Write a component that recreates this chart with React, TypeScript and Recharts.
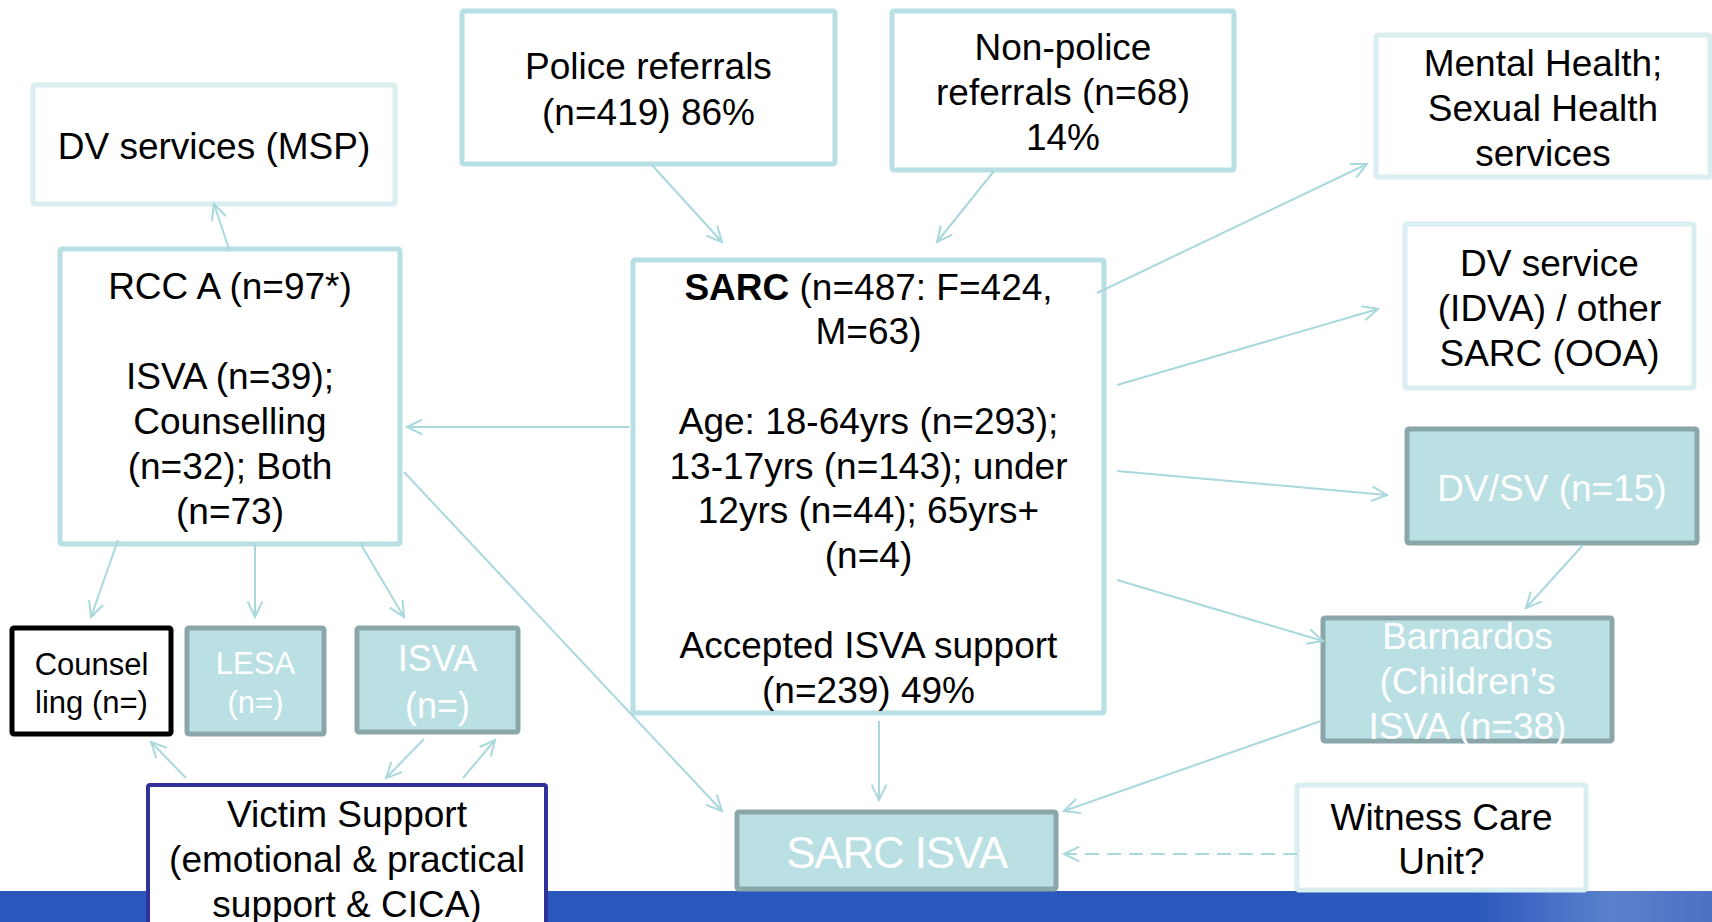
import { ComposedChart, XAxis, YAxis, ReferenceArea, ReferenceLine, Scatter } from 'recharts';

const W = 1712;
const H = 922;
const FONT = '"Liberation Sans", Arial, sans-serif';

// boxes of the referral flow (slide units, origin top-left)
const boxNames = [
  'dvMsp', 'police', 'nonPolice', 'mental', 'rcc', 'sarc', 'idva', 'dvsv',
  'counselling', 'lesa', 'isva', 'barnardos', 'victim', 'sarcIsva', 'witness',
];
const boxLeft = [33, 462, 892, 1376, 60, 633, 1405, 1407, 12, 187, 357, 1323, 148, 737, 1297];
const boxRight = [395, 835, 1234, 1710, 400, 1104, 1694, 1697, 171, 324, 518, 1612, 546, 1056, 1586];
const boxTop = [85, 11, 11, 35, 249, 260, 224, 429, 628, 628, 628, 618, 785, 812, 785];
const boxBottom = [204, 164, 170, 177, 544, 713, 388, 543, 734, 734, 732, 741, 929, 889, 890];
const boxKinds = [
  'pale', 'light', 'light', 'pale', 'light', 'light', 'pale', 'filled',
  'black', 'filled', 'filled', 'filled', 'navy', 'filled', 'pale',
];
const boxLines = [
  ['DV services (MSP)'],
  ['Police referrals', '(n=419) 86%'],
  ['Non-police', 'referrals (n=68)', '14%'],
  ['Mental Health;', 'Sexual Health', 'services'],
  ['RCC A (n=97*)', '', 'ISVA (n=39);', 'Counselling', '(n=32); Both', '(n=73)'],
  [
    'SARC (n=487: F=424,', 'M=63)', '', 'Age: 18-64yrs (n=293);', '13-17yrs (n=143); under',
    '12yrs (n=44); 65yrs+', '(n=4)', '', 'Accepted ISVA support', '(n=239) 49%',
  ],
  ['DV service', '(IDVA) / other', 'SARC (OOA)'],
  ['DV/SV (n=15)'],
  ['Counsel', 'ling (n=)'],
  ['LESA', '(n=)'],
  ['ISVA', '(n=)'],
  ['Barnardos', '(Children’s', 'ISVA (n=38)'],
  ['Victim Support', '(emotional & practical', 'support & CICA)'],
  ['SARC ISVA'],
  ['Witness Care', 'Unit?'],
];
const boxBoldLead = ['', '', '', '', '', 'SARC', '', '', '', '', '', '', '', '', ''];
const boxFontSize = [37, 37, 37, 37, 37, 37, 37, 37, 31, 31, 36, 37, 37, 44, 37];
const boxLineHeight = [45, 46, 45, 45, 45, 44.8, 45, 45, 38, 39, 47, 45, 45, 45, 44];

// connectors
const arrowFromX = [651, 994, 229, 629, 1097, 1117, 1117, 1117, 1583, 1321, 1297, 879, 404, 118, 255, 360, 186, 424, 463];
const arrowFromY = [164, 171, 249, 427, 293, 385, 471, 580, 545, 721, 854, 721, 472, 540, 543, 543, 778, 739, 778];
const arrowToX = [722, 937, 214, 407, 1367, 1378, 1387, 1323, 1526, 1064, 1064, 879, 722, 91, 255, 404, 151, 386, 495];
const arrowToY = [242, 242, 204, 427, 164, 309, 495, 641, 608, 811, 854, 800, 811, 617, 617, 617, 742, 778, 740];
const arrowDashed = [false, false, false, false, false, false, false, false, false, false, true, false, false, false, false, false, false, false, false];

const kindStyles: Record<string, { fill: string; stroke: string; strokeWidth: number; text: string }> = {
  light: { fill: '#ffffff', stroke: '#b8dfe3', strokeWidth: 5, text: '#000000' },
  pale: { fill: '#ffffff', stroke: '#d9eef0', strokeWidth: 5, text: '#000000' },
  filled: { fill: '#bbe0e4', stroke: '#8aa6a9', strokeWidth: 5, text: '#ffffff' },
  black: { fill: '#ffffff', stroke: '#000000', strokeWidth: 5, text: '#000000' },
  navy: { fill: '#ffffff', stroke: '#30329a', strokeWidth: 4, text: '#000000' },
};

const ARROW_COLOR = '#a9d8dd';

function makeBoxShape(i: number) {
  return (props: any) => {
    const { x, y, width, height } = props;
    const st = kindStyles[boxKinds[i]];
    const lines = boxLines[i];
    const fs = boxFontSize[i];
    const lh = boxLineHeight[i];
    const cx = x + width / 2;
    const cy = y + height / 2 + 2;
    const start = cy - ((lines.length - 1) * lh) / 2;
    const lead = boxBoldLead[i];
    return (
      <g>
        <rect x={x} y={y} width={width} height={height} fill={st.fill} stroke={st.stroke} strokeWidth={st.strokeWidth} rx={2} />
        {lines.map((line, k) => {
          const hasLead = k === 0 && lead && line.startsWith(lead);
          return (
            <text
              key={k}
              x={cx}
              y={start + k * lh}
              textAnchor="middle"
              dominantBaseline="central"
              fontFamily={FONT}
              fontSize={fs}
              letterSpacing={boxNames[i] === 'sarcIsva' ? -1.2 : 0}
              fill={st.text}
            >
              {hasLead ? (
                <>
                  <tspan fontWeight="bold">{lead}</tspan>
                  <tspan>{line.slice(lead.length)}</tspan>
                </>
              ) : (
                line
              )}
            </text>
          );
        })}
      </g>
    );
  };
}

function makeArrowShape(i: number) {
  return (props: any) => {
    const { x1, y1, x2, y2 } = props;
    const ang = Math.atan2(y2 - y1, x2 - x1);
    const len = 17;
    const spread = Math.PI / 7;
    const ax = x2 - len * Math.cos(ang - spread);
    const ay = y2 - len * Math.sin(ang - spread);
    const bx = x2 - len * Math.cos(ang + spread);
    const by = y2 - len * Math.sin(ang + spread);
    return (
      <g fill="none" stroke={ARROW_COLOR} strokeWidth={2}>
        <line x1={x1} y1={y1} x2={x2} y2={y2} strokeDasharray={arrowDashed[i] ? '14 8' : undefined} />
        <path d={`M${ax},${ay} L${x2},${y2} L${bx},${by}`} />
      </g>
    );
  };
}

const anchors = [
  { x: 0, y: 0 },
  { x: W, y: H },
];

export default function App() {
  return (
    <div style={{ position: 'fixed', left: 0, top: 0, width: W, height: H, background: '#ffffff' }}>
      <ComposedChart width={W} height={H} margin={{ top: 0, right: 0, bottom: 0, left: 0 }}>
        <defs>
          <linearGradient id="barGrad" x1="0" y1="0" x2="1" y2="0">
            <stop offset="0%" stopColor="#2a57bc" />
            <stop offset="86%" stopColor="#2a57bc" />
            <stop offset="94%" stopColor="#5b81cd" />
            <stop offset="100%" stopColor="#4c70c4" />
          </linearGradient>
        </defs>
        <XAxis type="number" dataKey="x" domain={[0, W]} hide allowDataOverflow />
        <YAxis type="number" dataKey="y" domain={[0, H]} reversed hide allowDataOverflow />
        <Scatter data={anchors} fill="none" isAnimationActive={false} shape={() => <g />} />
        <ReferenceArea x1={0} x2={W} y1={891} y2={H} ifOverflow="visible" fill="url(#barGrad)" fillOpacity={1} stroke="none" />
        {boxNames.map((name, i) => (
          <ReferenceArea
            key={name}
            x1={boxLeft[i]}
            x2={boxRight[i]}
            y1={boxTop[i]}
            y2={boxBottom[i]}
            ifOverflow="visible"
            shape={makeBoxShape(i)}
          />
        ))}
        {arrowFromX.map((_, i) => (
          <ReferenceLine
            key={`arrow-${i}`}
            segment={[
              { x: arrowFromX[i], y: arrowFromY[i] },
              { x: arrowToX[i], y: arrowToY[i] },
            ]}
            ifOverflow="visible"
            shape={makeArrowShape(i)}
          />
        ))}
      </ComposedChart>
    </div>
  );
}
